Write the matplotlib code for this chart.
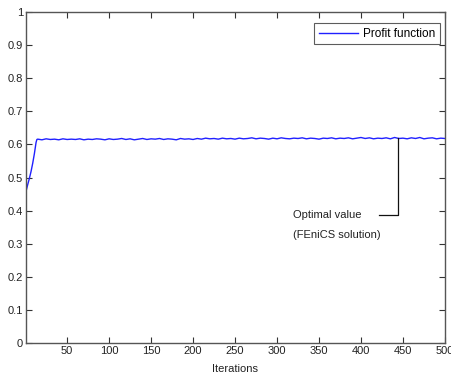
import matplotlib
matplotlib.use("Agg")
import matplotlib.pyplot as plt

plt.rcParams['font.family'] = ['Liberation Sans', 'DejaVu Sans']

# Rising part (iterations 1..14)
rise_x = [1, 3, 5, 7, 9, 11, 13, 14]
rise_y = [0.458, 0.478, 0.497, 0.518, 0.543, 0.572, 0.606, 0.615]

# Plateau (every 5 iterations from 15 to 500), hand-read wiggle
plateau_x = list(range(15, 501, 5))
plateau_y = [
    0.616, 0.614, 0.617, 0.615, 0.616, 0.614, 0.617, 0.615, 0.616, 0.615,
    0.617, 0.614, 0.616, 0.615, 0.617, 0.616, 0.614, 0.617, 0.615, 0.616,
    0.618, 0.615, 0.617, 0.614, 0.616, 0.618, 0.615, 0.617, 0.616, 0.618,
    0.615, 0.617, 0.616, 0.614, 0.618, 0.616, 0.617, 0.615, 0.618, 0.616,
    0.619, 0.617, 0.618, 0.616, 0.619, 0.617, 0.618, 0.616, 0.619, 0.617,
    0.618, 0.620, 0.617, 0.619, 0.618, 0.616, 0.619, 0.617, 0.620, 0.618,
    0.617, 0.619, 0.618, 0.620, 0.617, 0.619, 0.618, 0.616, 0.619, 0.618,
    0.620, 0.617, 0.619, 0.618, 0.620, 0.617, 0.619, 0.621, 0.618, 0.620,
    0.617, 0.619, 0.618, 0.620, 0.617, 0.621, 0.618, 0.619, 0.617, 0.620,
    0.618, 0.621, 0.617, 0.619, 0.620, 0.617, 0.619, 0.618,
]

x = rise_x + plateau_x
y = rise_y + plateau_y[:len(plateau_x)]

xticks = [50, 100, 150, 200, 250, 300, 350, 400, 450, 500]
yticks = [0, 0.1, 0.2, 0.3, 0.4, 0.5, 0.6, 0.7, 0.8, 0.9, 1]
ytick_labels = ['0', '0.1', '0.2', '0.3', '0.4', '0.5', '0.6', '0.7', '0.8', '0.9', '1']

opt_x = 444
opt_y = 0.62
elbow_y = 0.388
text_end_x = 421

fig = plt.figure(figsize=(4.51, 3.75), dpi=100)
ax = fig.add_axes([0.0576, 0.085, 0.929, 0.883])

ax.plot(x, y, color='#2020ff', lw=1.0, label='Profit function')

ax.set_xlim(1, 500)
ax.set_ylim(0, 1)
ax.set_xticks(xticks)
ax.set_yticks(yticks)
ax.set_yticklabels(ytick_labels)
ax.tick_params(direction='in', top=True, right=True, length=4, width=0.8,
               labelsize=8, colors='#333333', labelcolor='#222222', pad=2)
for s in ax.spines.values():
    s.set_color('#555555')
    s.set_linewidth(1.0)
ax.set_xlabel('Iterations', fontsize=8, color='#222222', labelpad=6)

# annotation connector
ax.plot([opt_x, opt_x, text_end_x], [opt_y, elbow_y, elbow_y], color='#111111', lw=0.9)
ax.text(319, elbow_y, 'Optimal value', fontsize=8, color='#222222', va='center', ha='left')
ax.text(319, elbow_y - 0.06, '(FEniCS solution)', fontsize=8, color='#222222', va='center', ha='left')

leg = ax.legend(loc='upper right', fontsize=8.5, frameon=True, fancybox=False,
                handlelength=3.3, borderpad=0.4, borderaxespad=0.0, handletextpad=0.42,
                bbox_to_anchor=(440 / 451, 1 - 23 / 375), bbox_transform=fig.transFigure)
leg.get_frame().set_edgecolor('#333333')
leg.get_frame().set_linewidth(0.8)

fig.savefig('out.png', dpi=100)
